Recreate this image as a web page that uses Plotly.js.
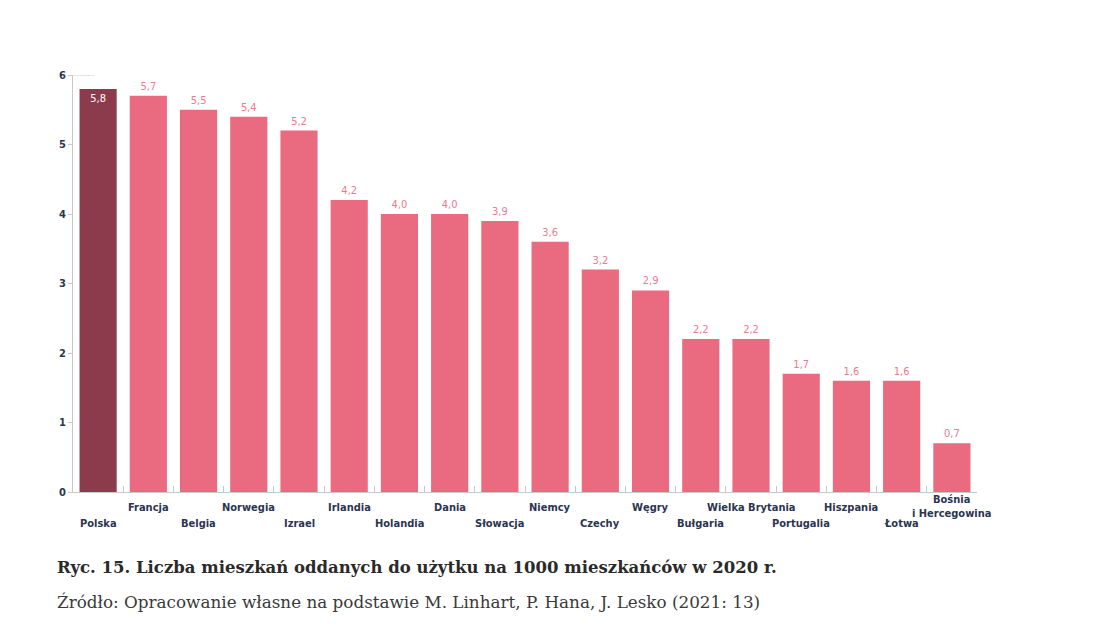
<!DOCTYPE html>
<html>
<head>
<meta charset="utf-8">
<script src="https://cdn.plot.ly/plotly-3.0.1.min.js"></script>
<style>
  body { margin: 0; background: #fff; }
  #chart { width: 1100px; height: 625px; }
</style>
</head>
<body>
<div id="chart"></div>
<script>
// mieszkania oddane do uzytku na 1000 mieszkancow, 2020
const countries = ["Polska", "Francja", "Belgia", "Norwegia", "Izrael", "Irlandia", "Holandia", "Dania",
  "Słowacja", "Niemcy", "Czechy", "Węgry", "Bułgaria", "Wielka Brytania", "Portugalia", "Hiszpania",
  "Łotwa", "Bośnia<br>i Hercegowina"];
const values = [5.8, 5.7, 5.5, 5.4, 5.2, 4.2, 4.0, 4.0, 3.9, 3.6, 3.2, 2.9, 2.2, 2.2, 1.7, 1.6, 1.6, 0.7];
const yTicks = [0, 1, 2, 3, 4, 5, 6];

const pink = '#ea6a80';
const dark = '#8c3b4c';
const navy = '#2b3550';
const labelFont = 'DejaVu Sans Condensed, DejaVu Sans, sans-serif';

const idx = countries.map((c, i) => i);

const trace = {
  type: 'bar',
  x: idx,
  y: values,
  marker: { color: idx.map(i => i === 0 ? dark : pink) },
  text: values.map(v => v.toFixed(1).replace('.', ',')),
  textposition: idx.map(i => i === 0 ? 'inside' : 'outside'),
  insidetextanchor: 'end',
  textangle: 0,
  textfont: { family: labelFont, size: 11, color: idx.map(i => i === 0 ? '#ffffff' : '#ec7b8e') },
  cliponaxis: false,
  hoverinfo: 'x+y'
};

// country labels alternate between two rows
const annotations = countries.map((c, i) => ({
  x: i, xref: 'x',
  y: 0, yref: 'paper',
  yanchor: 'middle',
  yshift: c.indexOf('<br>') >= 0 ? -14 : (i % 2 === 0 ? -31 : -15),
  text: c,
  showarrow: false,
  font: { family: labelFont, size: 11, color: navy, weight: 'bold', lineposition: 'none' }
}));

annotations.push({
  x: 0, xref: 'paper', xshift: -18, xanchor: 'left',
  y: 0, yref: 'paper', yshift: -75, yanchor: 'middle',
  text: '<b>Ryc. 15. Liczba mieszkań oddanych do użytku na 1000 mieszkańców w 2020 r.</b>',
  showarrow: false,
  font: { family: 'DejaVu Serif, serif', size: 16.5, color: '#2a2a2a' }
});
annotations.push({
  x: 0, xref: 'paper', xshift: -18, xanchor: 'left',
  y: 0, yref: 'paper', yshift: -110, yanchor: 'middle',
  text: 'Źródło: Opracowanie własne na podstawie M. Linhart, P. Hana, J. Lesko (2021: 13)',
  showarrow: false,
  font: { family: 'DejaVu Serif, serif', size: 16.8, color: '#3a3a3a' }
});

const layout = {
  width: 1100,
  height: 625,
  margin: { l: 73, r: 123, t: 75, b: 133 },
  paper_bgcolor: '#ffffff',
  plot_bgcolor: '#ffffff',
  showlegend: false,
  bargap: 0.26,
  xaxis: {
    type: 'linear',
    range: [-0.5, 17.5],
    tickmode: 'array',
    tickvals: idx.slice(1).map(i => i - 0.5).concat([17.5]),
    ticktext: idx.slice(1).map(() => '').concat(['']),
    ticks: 'inside',
    ticklen: 6,
    tickcolor: '#c8c8c8',
    showticklabels: false,
    showline: true,
    linecolor: '#c8c8c8',
    linewidth: 1,
    showgrid: false,
    zeroline: false,
    fixedrange: true
  },
  yaxis: {
    range: [0, 6],
    tickmode: 'array',
    tickvals: yTicks,
    ticktext: yTicks.map(String),
    ticks: 'outside',
    ticklen: 4,
    tickcolor: '#c8c8c8',
    tickfont: { family: labelFont, size: 11, color: navy, weight: 'bold' },
    showline: true,
    linecolor: '#c8c8c8',
    linewidth: 1,
    showgrid: false,
    zeroline: false,
    fixedrange: true
  },
  shapes: [{
    type: 'line', xref: 'paper', yref: 'y',
    x0: 0, x1: 0.024, y0: 6, y1: 6,
    line: { color: '#c8c8c8', width: 1 }
  }],
  annotations: annotations
};

Plotly.newPlot('chart', [trace], layout, { displayModeBar: false, staticPlot: true });
</script>
</body>
</html>
